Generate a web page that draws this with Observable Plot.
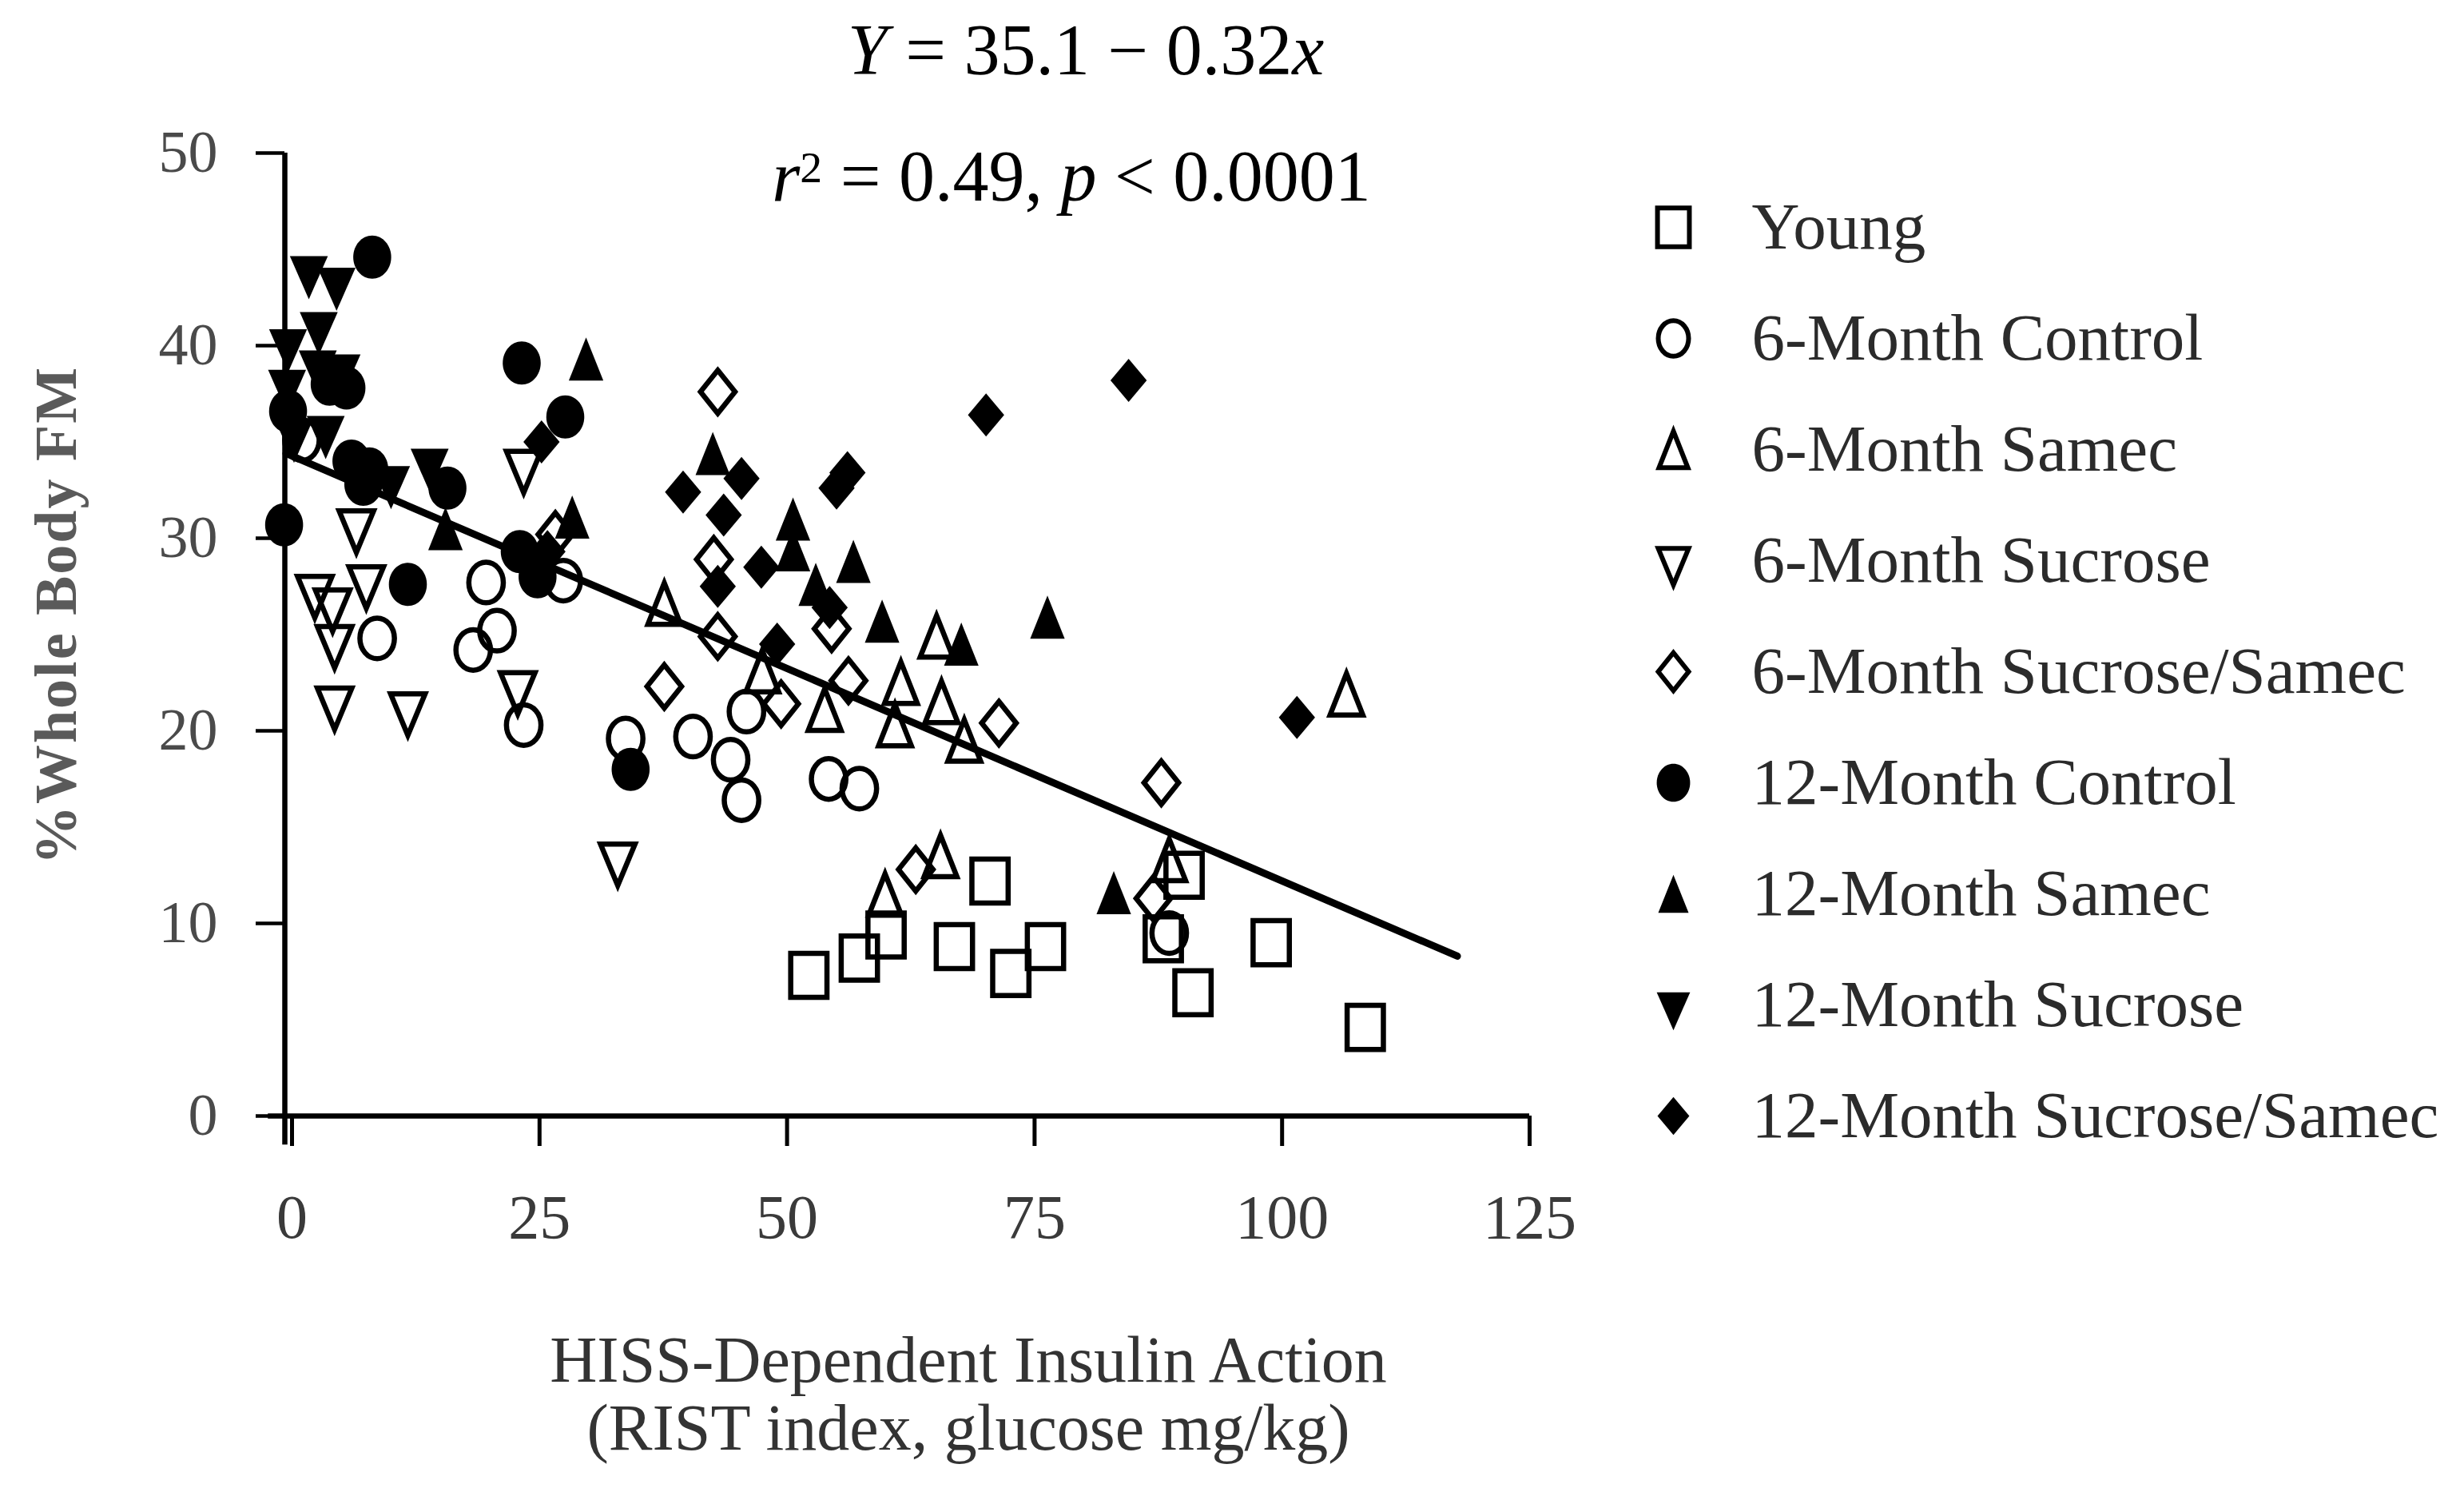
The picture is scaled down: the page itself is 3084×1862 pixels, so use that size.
<!DOCTYPE html>
<html>
<head>
<meta charset="utf-8">
<script src="https://cdn.jsdelivr.net/npm/d3@7"></script>
<script src="https://cdn.jsdelivr.net/npm/@observablehq/plot@0.6"></script>
<style>
  html, body { margin: 0; padding: 0; background: #fff; }
  #wrap { position: relative; width: 3084px; height: 1862px; overflow: hidden; background: #fff; }
  .abs { position: absolute; }
  .serif { font-family: "Liberation Serif", "Times New Roman", serif; }
  svg { max-width: none !important; }
</style>
</head>
<body>
<div id="wrap">
  <div id="main" class="abs" style="left:0;top:0;width:2000px;height:1862px;"></div>
  <div id="legend" class="abs" style="left:2000px;top:0;width:1084px;height:1862px;"></div>
  <div class="abs serif" style="left:859px;top:18px;width:1000px;text-align:center;font-size:90px;line-height:1;color:#000;"><i>Y</i> = 35.1 − 0.32<i>x</i></div>
  <div class="abs serif" style="left:841px;top:176px;width:1000px;text-align:center;font-size:90px;line-height:1;color:#000;"><i>r</i><span style="position:relative;top:-0.42em;font-size:0.62em;">2</span> = 0.49, <i>p</i> &lt; 0.0001</div>
  <div class="abs serif" style="left:-330px;top:733px;width:800px;text-align:center;font-size:74px;line-height:1;font-weight:bold;letter-spacing:2px;color:#5a5a5a;transform:rotate(-90deg);">%Whole Body FM</div>
  <div class="abs serif" style="left:612px;top:1661px;width:1200px;text-align:center;font-size:82px;line-height:1;color:#333;">HISS-Dependent Insulin Action</div>
  <div class="abs serif" style="left:612px;top:1746px;width:1200px;text-align:center;font-size:82px;line-height:1;color:#333;">(RIST index, glucose mg/kg)</div>
</div>
<script>
// ---------------- data ----------------
const groupNames = ["Young", "6-Month Control", "6-Month Samec", "6-Month Sucrose", "6-Month Sucrose/Samec",
  "12-Month Control", "12-Month Samec", "12-Month Sucrose", "12-Month Sucrose/Samec"];

const youngX = [52.2, 57.3, 60.0, 66.9, 70.5, 72.6, 76.1, 88.0, 90.1, 91.0, 98.9, 108.4];
const youngY = [7.3, 8.2, 9.4, 8.8, 12.2, 7.4, 8.8, 9.2, 12.5, 6.4, 9.0, 4.6];

const control6X = [1.0, 8.6, 18.3, 19.6, 20.7, 27.4, 23.4, 33.7, 40.5, 44.3, 45.4, 45.9, 54.2, 57.3, 88.6];
const control6Y = [35.1, 24.8, 24.2, 27.7, 25.2, 27.8, 20.3, 19.6, 19.7, 18.5, 16.4, 21.0, 17.5, 17.0, 9.5];

const samec6X = [37.6, 47.5, 53.8, 61.5, 60.9, 65.6, 65.1, 67.9, 59.9, 65.5, 88.6, 106.5];
const samec6Y = [26.6, 23.1, 21.1, 22.5, 20.3, 21.5, 24.9, 19.5, 11.5, 13.5, 13.3, 21.9];

const sucrose6X = [6.5, 7.5, 2.3, 4.1, 4.3, 4.3, 11.7, 22.8, 32.9, 23.4];
const sucrose6Y = [30.7, 27.8, 27.3, 26.6, 24.7, 21.5, 21.2, 22.3, 13.4, 33.8];

const sucSam6X = [26.6, 37.6, 43.0, 42.6, 43.0, 49.4, 54.5, 56.2, 71.4, 63.0, 87.0, 87.8];
const sucSam6Y = [30.2, 22.3, 37.6, 28.9, 24.9, 21.4, 25.3, 22.6, 20.4, 12.8, 11.3, 17.3];

const control12X = [8.1, 3.8, 5.5, -0.4, -0.8, 6.0, 7.8, 7.2, 15.7, 11.7, 23.2, 27.6, 23.0, 24.8, 34.2];
const control12Y = [44.6, 38.0, 37.8, 36.6, 30.7, 34.0, 33.6, 32.8, 32.6, 27.6, 39.1, 36.3, 29.3, 28.0, 18.0];

const samec12X = [29.7, 28.3, 15.5, 42.5, 50.6, 50.6, 56.7, 52.9, 59.6, 67.6, 76.3, 83.0];
const samec12Y = [39.3, 31.1, 30.5, 34.4, 31.0, 29.4, 28.8, 27.6, 25.7, 24.5, 25.9, 11.6];

const sucrose12X = [1.7, 4.5, 2.7, -0.4, 2.6, 5.0, -0.5, 0.2, 3.4, 10.0, 13.9];
const sucrose12Y = [43.9, 43.3, 41.0, 40.1, 39.0, 38.8, 38.0, 35.4, 35.6, 33.0, 33.9];

const sucSam12X = [25.2, 25.8, 39.5, 45.4, 43.6, 47.4, 43.0, 49.0, 54.3, 55.0, 56.1, 70.1, 84.5, 101.5];
const sucSam12Y = [35.0, 29.3, 32.4, 33.1, 31.2, 28.5, 27.5, 24.5, 26.4, 32.6, 33.4, 36.4, 38.2, 20.7];

// fitted line as drawn in the figure (end points)
const fitX = [-0.6, 117.7];
const fitY = [34.4, 8.3];

const xTicks = [0, 25, 50, 75, 100, 125];
const yTicks = [0, 10, 20, 30, 40, 50];

// ---------------- symbols ----------------
const sym = (fn) => ({ draw(ctx, size) { const k = Math.sqrt(size / Math.PI); fn(ctx, k); } });
function ellipse(ctx, rx, ry) {
  const kx = rx * 0.5523, ky = ry * 0.5523;
  ctx.moveTo(rx, 0);
  ctx.bezierCurveTo(rx, ky, kx, ry, 0, ry);
  ctx.bezierCurveTo(-kx, ry, -rx, ky, -rx, 0);
  ctx.bezierCurveTo(-rx, -ky, -kx, -ry, 0, -ry);
  ctx.bezierCurveTo(kx, -ry, rx, -ky, rx, 0);
  ctx.closePath();
}
function rect(ctx, hw, hh) { ctx.moveTo(-hw, -hh); ctx.lineTo(hw, -hh); ctx.lineTo(hw, hh); ctx.lineTo(-hw, hh); ctx.closePath(); }
function triUp(ctx, w, h) { ctx.moveTo(0, -h / 2); ctx.lineTo(w / 2, h / 2); ctx.lineTo(-w / 2, h / 2); ctx.closePath(); }
function triDown(ctx, w, h) { ctx.moveTo(-w / 2, -h / 3); ctx.lineTo(w / 2, -h / 3); ctx.lineTo(0, 2 * h / 3); ctx.closePath(); }
function diamond(ctx, rx, ry) { ctx.moveTo(0, -ry); ctx.lineTo(rx, 0); ctx.lineTo(0, ry); ctx.lineTo(-rx, 0); ctx.closePath(); }

const shapes = [
  { s: sym((c, k) => rect(c, 21 * k, 25.5 * k)), filled: false },
  { s: sym((c, k) => ellipse(c, 20 * k, 23.5 * k)), filled: false },
  { s: sym((c, k) => triUp(c, 38 * k, 48 * k)), filled: false },
  { s: sym((c, k) => triDown(c, 40 * k, 48 * k)), filled: false },
  { s: sym((c, k) => diamond(c, 20 * k, 25 * k)), filled: false },
  { s: sym((c, k) => ellipse(c, 22 * k, 25 * k)), filled: true },
  { s: sym((c, k) => triUp(c, 40 * k, 50 * k)), filled: true },
  { s: sym((c, k) => triDown(c, 44 * k, 50 * k)), filled: true },
  { s: sym((c, k) => diamond(c, 21 * k, 25 * k)), filled: true }
];

const seriesX = [youngX, control6X, samec6X, sucrose6X, sucSam6X, control12X, samec12X, sucrose12X, sucSam12X];
const seriesY = [youngY, control6Y, samec6Y, sucrose6Y, sucSam6Y, control12Y, samec12Y, sucrose12Y, sucSam12Y];

const styleOf = (i, sw) => shapes[i].filled
  ? { fill: "#000", stroke: "none" }
  : { fill: "none", stroke: "#000", strokeWidth: sw };

const pointMarks = groupNames.map((g, i) => {
  const data = seriesX[i].map((x, j) => ({ x, y: seriesY[i][j], group: g }));
  return Plot.dot(data, { x: "x", y: "y", symbol: shapes[i].s, r: 1.08, ...styleOf(i, 6.5) });
});

const fitData = fitX.map((x, i) => ({ x, y: fitY[i] }));

const main = Plot.plot({
  width: 2000, height: 1862,
  marginLeft: 365, marginRight: 86, marginTop: 191, marginBottom: 466,
  x: { domain: [0, 125] },
  y: { domain: [0, 50] },
  style: { background: "transparent", overflow: "visible" },
  marks: [
    Plot.ruleY([0], { x1: -2.4, x2: 125, stroke: "#000", strokeWidth: 6.5 }),
    Plot.ruleX([0], { y1: -1.5, y2: 50, dx: -9, stroke: "#000", strokeWidth: 6.5 }),
    Plot.axisX(xTicks, { tickSize: 38, tickPadding: 59, stroke: "#000", strokeWidth: 5, fill: "#3a3a3a",
      fontSize: 78, fontFamily: "Liberation Serif", label: null }),
    Plot.axisY(yTicks, { tickSize: 36, tickPadding: 48, dx: -9, stroke: "#000", strokeWidth: 4.5, fill: "#4a4a4a",
      fontSize: 74, fontFamily: "Liberation Serif", label: null }),
    ...pointMarks,
    Plot.line(fitData, { x: "x", y: "y", stroke: "#000", strokeWidth: 9 })
  ]
});
document.getElementById("main").appendChild(main);

const legend = Plot.plot({
  width: 1084, height: 1862, margin: 0,
  y: { type: "point", domain: groupNames, range: [283, 1396], padding: 0, axis: null },
  style: { background: "transparent", overflow: "visible" },
  marks: [
    ...groupNames.map((g, i) => Plot.dot([g], { y: (d) => d, frameAnchor: "left", dx: 94,
      symbol: shapes[i].s, r: 0.95, ...styleOf(i, 6) })),
    Plot.text(groupNames, { y: (d) => d, text: (d) => d, frameAnchor: "left", dx: 192, textAnchor: "start",
      fontSize: 83, fontFamily: "Liberation Serif", fill: "#2b2b2b" })
  ]
});
document.getElementById("legend").appendChild(legend);
</script>
</body>
</html>
